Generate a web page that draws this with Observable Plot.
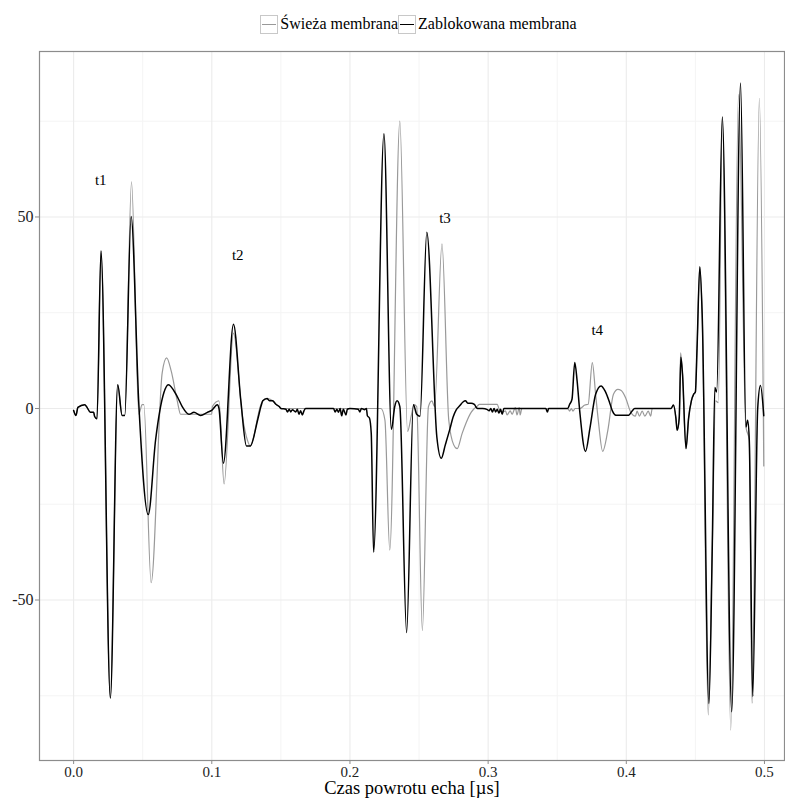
<!DOCTYPE html>
<html>
<head>
<meta charset="utf-8">
<script src="https://cdn.jsdelivr.net/npm/d3@7"></script>
<script src="https://cdn.jsdelivr.net/npm/@observablehq/plot@0.6"></script>
<style>
  html, body { margin: 0; padding: 0; background: #fff; }
  body { width: 785px; font-family: "Liberation Serif", "DejaVu Serif", serif; }
  #legend { height: 48px; display: flex; justify-content: center; align-items: center; font-size: 16px; color: #000; padding-left: 52px; box-sizing: border-box; }
  .item { display: flex; align-items: center; }
  .key { width: 18px; height: 19px; border: 1px solid #c8c8c8; box-sizing: border-box; position: relative; margin-right: 2px; }
  .key span { position: absolute; left: 1px; right: 1px; top: 8px; }
  #chart svg, #chart svg text { font-family: "Liberation Serif", "DejaVu Serif", serif !important; }
</style>
</head>
<body>
<div id="legend">
  <div class="item"><div class="key"><span style="border-top:1.2px solid #999"></span></div><span>Świeża membrana</span></div>
  <div class="item"><div class="key"><span style="border-top:1.8px solid #000"></span></div><span>Zablokowana membrana</span></div>
</div>
<div id="chart"></div>
<script>
// Series names
const seriesNames = ["Świeża membrana", "Zablokowana membrana"];

// Zablokowana membrana (black)
const blockedTime = [
  0, 0.0017, 0.0031, 0.008, 0.0097, 0.0121, 0.0145, 0.0152, 0.0169, 0.0198, 0.0266, 0.0319, 0.0351, 0.037,
  0.0416, 0.0472, 0.054, 0.0593, 0.0653, 0.0685, 0.075, 0.0786, 0.0835, 0.0871, 0.0919, 0.0968, 0.0999,
  0.104, 0.1052, 0.1084, 0.1157, 0.121, 0.1251, 0.1278, 0.1333, 0.1357, 0.1369, 0.14, 0.1417, 0.144, 0.1464,
  0.1488, 0.15, 0.1536, 0.1548, 0.156, 0.1571, 0.1583, 0.1607, 0.1619, 0.1631, 0.1643, 0.1655, 0.1667, 0.1679,
  0.1881, 0.1893, 0.1905, 0.1917, 0.1929, 0.194, 0.1952, 0.1971, 0.1981, 0.2, 0.206, 0.2071, 0.2083, 0.2107,
  0.2119, 0.2126, 0.2141, 0.2154, 0.2171, 0.2246, 0.23, 0.2324, 0.2341, 0.2361, 0.241, 0.2459, 0.2483, 0.2507,
  0.2556, 0.2629, 0.2661, 0.269, 0.2723, 0.2746, 0.277, 0.2794, 0.2818, 0.2836, 0.2853, 0.2877, 0.29, 0.2912,
  0.2924, 0.296, 0.2995, 0.3007, 0.3019, 0.3031, 0.3043, 0.3055, 0.3066, 0.3078, 0.309, 0.3102, 0.3114,
  0.3417, 0.3429, 0.3438, 0.3576, 0.359, 0.3607, 0.3627, 0.3644, 0.3663, 0.3705, 0.3737, 0.3778, 0.3817,
  0.3846, 0.3876, 0.39, 0.3924, 0.4017, 0.4041, 0.4061, 0.4324, 0.4341, 0.4359, 0.4368, 0.4383, 0.4395,
  0.4407, 0.4432, 0.4451, 0.4471, 0.4488, 0.45, 0.4512, 0.4532, 0.4549, 0.4598, 0.4622, 0.4641, 0.4654,
  0.4695, 0.4763, 0.4827, 0.4866, 0.4878, 0.489, 0.4915, 0.4951, 0.4971, 0.4995
];
const blockedValue = [
  -0.5, -1.8, 0.3, 1.0, 0.3, -1.0, -1.0, -2.1, -2.7, 41.1, -75.6, 6.2, -1.8, -1.8,
  50.1, 1.0, -27.7, -8.3, 4.1, 6.2, 3.1, 0.5, -1.5, -1.0, -1.8, -1.0, -0.5,
  1.0, 0, -14.3, 22.0, 2.1, -9.8, -9.8, -2.8, 0.7, 2.0, 2.6, 2.0, 2.0, 1.1,
  0.5, 0, -0.2, -0.9, -0.2, -0.9, -0.3, -0.9, -0.2, -1.5, -0.6, -1.7, -0.6, 0,
  0, -0.9, -0.2, -1.0, 0, -1.9, -0.2, -1.7, -0.2, 0, -0.2, -0.9, 0, -0.3,
  0, -1.9, -2.5, -6.5, -37.5, 71.7, -5.5, 0.5, 2.0, 0.5, -58.5, 1.0, -1.5, -2.0,
  46.0, -7.5, -13.0, -9.5, -5.4, -2.3, -0.3, 0.7, 1.7, 2.0, 1.4, 1.4, 1.1, 0.4,
  0, 0, -0.3, -0.6, 0, -0.9, 0, -0.9, -0.2, -1.2, -0.2, -1.5, 0,
  0, -0.9, 0, 0, 1.1, 2.4, 12.0, 7.2, -0.7, -11.2, -5.1, 3.7, 5.9,
  4.6, 1.9, -0.7, -1.75, -1.75, -0.7, 0, 0, 0.9, -2.5, -5.7, -2.5, 13.4,
  8.9, -10.5, -2.5, 2.0, 3.75, 4.3, 15.7, 37.0, 24.8, -77.0, -36.6, 5.5, 4.3,
  76.1, -79.2, 85.0, -4.8, -3.1, -8.2, -75.2, 0, 6.0, -1.9
];

// Świeża membrana (grey)
const freshTime = [
  0, 0.0017, 0.0031, 0.008, 0.0097, 0.0121, 0.0145, 0.0152, 0.0169, 0.0198, 0.0266, 0.0319, 0.0351, 0.037,
  0.0419, 0.0472, 0.0496, 0.0508, 0.0561, 0.0641, 0.0673, 0.0706, 0.075, 0.0774, 0.0999, 0.1004, 0.1052,
  0.1089, 0.1157, 0.1222, 0.1258, 0.1278, 0.1355, 0.1369, 0.14, 0.144, 0.1464, 0.1488, 0.15,
  0.2224, 0.2253, 0.2288, 0.2361, 0.2417, 0.2446, 0.2463, 0.2483, 0.2524, 0.2568, 0.2593, 0.2612, 0.2666,
  0.2715, 0.2751, 0.2776, 0.2812, 0.2841, 0.2877, 0.29, 0.2924, 0.2936, 0.3066, 0.3078, 0.3102, 0.3126,
  0.3137, 0.316, 0.3173, 0.3197, 0.3209, 0.3225, 0.3232, 0.3244, 0.3576, 0.359, 0.3602, 0.3614, 0.363,
  0.3663, 0.37, 0.3724, 0.3754, 0.3778, 0.3798, 0.3829, 0.3866, 0.3907, 0.3939, 0.3963, 0.3995, 0.4029,
  0.4066, 0.4078, 0.4095, 0.4115, 0.4134, 0.4159, 0.4176, 0.4188, 0.4324, 0.4341, 0.4359, 0.4368, 0.4383,
  0.4393, 0.4407, 0.4432, 0.4451, 0.4471, 0.4488, 0.45, 0.4512, 0.4532, 0.4549, 0.4593, 0.4622, 0.4646,
  0.4666, 0.4695, 0.4756, 0.4812, 0.4866, 0.489, 0.491, 0.4963, 0.4995
];
const freshValue = [
  -0.5, -1.8, 0.3, 1.0, 0.3, -1.0, -1.0, -2.1, -2.7, 41.1, -75.6, 6.2, -1.8, -1.8,
  59.2, -1.5, 1.0, 1.0, -45.5, 9.3, 13.2, 9.8, 2.0, -1.5, -1.5, 0.5, 2.0,
  -19.7, 19.7, -2.1, -8.3, -9.8, 1.0, 2.0, 2.6, 2.0, 1.1, 0.5, 0,
  0, -3.0, -37.0, 75.0, -6.0, -1.5, 1.0, 0.5, -58.0, 0.5, 2.0, 0.5, 43.0,
  -3.0, -9.5, -10.5, -6.5, -3.7, -1.0, 0, 0.7, 1.1, 1.1, 0, -1.0, -0.6,
  -1.7, -0.6, -1.5, 0.2, -1.7, 0.2, -1.7, 0, 0, -0.7, 0, -0.7, 0,
  0, 0.9, 1.1, 12.0, 3.7, -3.3, -11.2, -5.8, 3.7, 5.0, 4.7, 2.8, -0.7,
  -2.0, -0.7, -2.0, -0.7, -2.0, -0.7, -2.0, 0, 0, 0.9, -2.5, -5.7, -2.5,
  14.5, 8.9, -10.5, -2.5, 2.0, 3.75, 4.3, 15.7, 37.0, 24.8, -80.0, -36.6, 2.0,
  1.5, 76.1, -84.0, 82.0, -4.8, -8.2, -77.0, 81.0, -15.0
];

// Annotation labels
const echoLabels = ["t1", "t2", "t3", "t4"];
const echoLabelTime = [0.0196, 0.1188, 0.2688, 0.379];
const echoLabelValue = [59.5, 40, 49.6, 20.4];

// Axis ticks
const xTicks = [0, 0.1, 0.2, 0.3, 0.4, 0.5];
const xMinorTicks = [0.05, 0.15, 0.25, 0.35, 0.45];
const yTicks = [-50, 0, 50];
const yMinorTicks = [-75, -25, 25, 75];

const xLabel = "Czas powrotu echa [µs]";

const fresh = freshTime.map((t, i) => ({t, v: freshValue[i], s: seriesNames[0]}));
const blocked = blockedTime.map((t, i) => ({t, v: blockedValue[i], s: seriesNames[1]}));
const labels = echoLabels.map((l, i) => ({l, t: echoLabelTime[i], v: echoLabelValue[i]}));

const chart = Plot.plot({
  width: 785,
  height: 754,
  marginTop: 3,
  marginBottom: 42,
  marginLeft: 39,
  marginRight: 1,
  style: {fontFamily: "'Liberation Serif', serif", fontSize: "16px", color: "#000", background: "#fff"},
  x: {domain: [-0.0247, 0.5145]},
  y: {domain: [-91.9, 93.2]},
  marks: [
    Plot.gridX(xMinorTicks, {stroke: "#f4f4f4", strokeOpacity: 1, strokeWidth: 1}),
    Plot.gridY(yMinorTicks, {stroke: "#f4f4f4", strokeOpacity: 1, strokeWidth: 1}),
    Plot.gridX(xTicks, {stroke: "#ebebeb", strokeOpacity: 1, strokeWidth: 1.1}),
    Plot.gridY(yTicks, {stroke: "#ebebeb", strokeOpacity: 1, strokeWidth: 1.1}),
    Plot.lineY(fresh, {x: "t", y: "v", stroke: "#999999", strokeWidth: 1.2, curve: "monotone-x"}),
    Plot.lineY(blocked, {x: "t", y: "v", stroke: "#000000", strokeWidth: 1.5, curve: "monotone-x"}),
    Plot.text(labels, {x: "t", y: "v", text: "l", fontSize: 15, fill: "#000"}),
    Plot.frame({stroke: "#8c8c8c", strokeWidth: 1.2}),
    Plot.axisX(xTicks, {tickFormat: d3.format(".1f"), tickSize: 4, tickPadding: 2, stroke: "#8c8c8c", fontSize: 15, label: null, fill: "#222"}),
    Plot.axisY(yTicks, {tickFormat: d => d < 0 ? "-" + Math.abs(d) : String(d), tickSize: 4, tickPadding: 2, stroke: "#8c8c8c", fontSize: 16, label: null, fill: "#222"}),
    Plot.text([xLabel], {frameAnchor: "bottom", text: d => d, dy: 33, fontSize: 18.5, fill: "#000"})
  ]
});
document.getElementById("chart").appendChild(chart);
</script>
</body>
</html>
